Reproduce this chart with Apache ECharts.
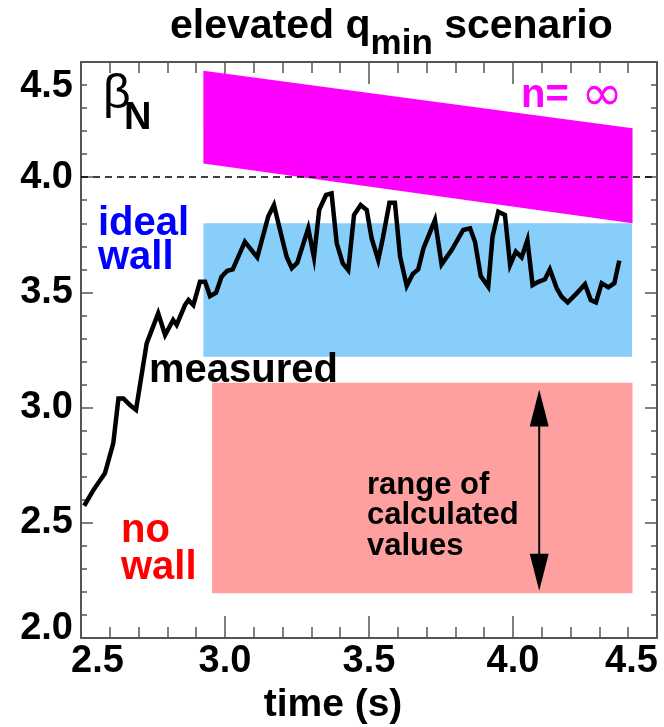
<!DOCTYPE html>
<html>
<head>
<meta charset="utf-8">
<script src="https://cdn.jsdelivr.net/npm/echarts@6/dist/echarts.min.js"></script>
<style>
  html, body { margin: 0; padding: 0; background: #fff; }
  #chart { width: 664px; height: 727px; }
</style>
</head>
<body>
<div id="chart"></div>
<script>
// Measured beta_N trace versus time (s)
const timeS = [2.511, 2.543, 2.583, 2.612, 2.630, 2.647, 2.670, 2.691, 2.728, 2.768,
  2.792, 2.820, 2.832, 2.861, 2.873, 2.890, 2.913, 2.931, 2.948, 2.969,
  2.988, 3.008, 3.027, 3.069, 3.112, 3.150, 3.170, 3.191, 3.214, 3.232,
  3.251, 3.289, 3.309, 3.327, 3.351, 3.370, 3.388, 3.409, 3.428, 3.448,
  3.471, 3.492, 3.509, 3.532, 3.548, 3.571, 3.590, 3.608, 3.631, 3.652,
  3.671, 3.689, 3.729, 3.752, 3.787, 3.827, 3.851, 3.868, 3.888, 3.914,
  3.929, 3.949, 3.972, 3.990, 4.010, 4.030, 4.050, 4.068, 4.088, 4.111,
  4.128, 4.152, 4.169, 4.190, 4.221, 4.250, 4.270, 4.288, 4.308, 4.331,
  4.352, 4.369];
const betaN = [2.574, 2.642, 2.715, 2.845, 3.040, 3.040, 3.011, 2.990, 3.279, 3.409,
  3.315, 3.380, 3.359, 3.445, 3.467, 3.445, 3.546, 3.546, 3.484, 3.499,
  3.568, 3.594, 3.600, 3.720, 3.652, 3.829, 3.879, 3.771, 3.655, 3.605,
  3.629, 3.778, 3.652, 3.858, 3.923, 3.930, 3.713, 3.626, 3.597, 3.836,
  3.879, 3.858, 3.735, 3.641, 3.735, 3.889, 3.889, 3.655, 3.528, 3.580,
  3.600, 3.691, 3.814, 3.622, 3.684, 3.771, 3.778, 3.720, 3.571, 3.525,
  3.742, 3.850, 3.836, 3.619, 3.677, 3.652, 3.727, 3.532, 3.546, 3.557,
  3.600, 3.518, 3.481, 3.457, 3.496, 3.535, 3.467, 3.457, 3.540, 3.522,
  3.540, 3.638];

// n = infinity limit band: time extent, upper and lower edges at each end
const infTime = [2.925, 4.415];
const infUpper = [4.462, 4.212];
const infLower = [4.060, 3.800];

// ideal-wall limit band
const idealTime = [2.925, 4.413];
const idealBeta = [3.221, 3.800];

// no-wall limit band
const noWallTime = [2.955, 4.415];
const noWallBeta = [2.194, 3.108];

// double arrow spanning the range of calculated values
const rangeArrowTime = 4.091;
const rangeArrowBeta = [2.205, 3.079];

// horizontal reference level
const refLevel = 4.0;

// axes
const timeRange = [2.5, 4.5];
const betaRange = [2.0, 4.5];
const tickStep = 0.5;

const FONT = '"Liberation Sans", Arial, Helvetica, sans-serif';
const AXIS_COLOR = '#555';

const chart = echarts.init(document.getElementById('chart'), null, { renderer: 'canvas' });

function labelStyle(extra) {
  return Object.assign({
    fontSize: 38, fontWeight: 'bold', fontFamily: FONT, color: '#000', lineHeight: 38
  }, extra || {});
}
function near(a, b) { return Math.abs(a - b) < 1e-6; }

function xAxis(position, showLabels, tickLen, minorLen) {
  return {
    type: 'value', position: position,
    min: timeRange[0], max: timeRange[1], interval: tickStep,
    axisLine: { show: true, onZero: false, lineStyle: { color: AXIS_COLOR, width: 2 } },
    axisTick: { show: true, inside: true, length: tickLen, lineStyle: { color: AXIS_COLOR, width: 1.5 } },
    minorTick: { show: true, splitNumber: 5, length: minorLen, lineStyle: { color: AXIS_COLOR, width: 1.5 } },
    splitLine: { show: false }, minorSplitLine: { show: false },
    name: showLabels ? 'time (s)' : '',
    nameLocation: 'middle', nameGap: 47,
    nameTextStyle: { fontSize: 39, fontWeight: 'bold', fontFamily: FONT, color: '#000',
      lineHeight: 39, padding: [0, 72, 0, 0] },
    axisLabel: {
      show: showLabels, margin: 5, hideOverlap: false, showMinLabel: true, showMaxLabel: true,
      formatter: v => near(v, timeRange[0]) ? '{first|' + v.toFixed(1) + '}'
        : near(v, timeRange[1]) ? '{last|' + v.toFixed(1) + '}'
        : '{n|' + v.toFixed(1) + '}',
      rich: {
        n: labelStyle(),
        first: labelStyle({ padding: [0, 0, 0, 33] }),
        last: labelStyle({ padding: [0, 51, 0, 0] })
      }
    }
  };
}

function yAxis(position, showLabels) {
  return {
    type: 'value', position: position,
    min: betaRange[0], max: betaRange[1], interval: tickStep,
    axisLine: { show: true, onZero: false, lineStyle: { color: AXIS_COLOR, width: 2 } },
    axisTick: { show: true, inside: true, length: 12, lineStyle: { color: AXIS_COLOR, width: 1.5 } },
    minorTick: { show: true, splitNumber: 5, length: 6, lineStyle: { color: AXIS_COLOR, width: 1.5 } },
    splitLine: { show: false }, minorSplitLine: { show: false },
    axisLabel: {
      show: showLabels, margin: 8, hideOverlap: false, showMinLabel: true, showMaxLabel: true,
      formatter: v => near(v, betaRange[1]) ? '{top|' + v.toFixed(1) + '}'
        : near(v, betaRange[0]) ? '{bot|' + v.toFixed(1) + '}'
        : '{n|' + v.toFixed(1) + '}',
      rich: {
        n: labelStyle(),
        top: labelStyle({ padding: [49, 0, 0, 0] }),
        bot: labelStyle({ padding: [0, 0, 18, 0] })
      }
    }
  };
}

// four-corner band: [t0, t1, lower0, upper0, lower1, upper1]
function bandRenderer(color) {
  return function (params, api) {
    const pts = [
      api.coord([api.value(0), api.value(3)]),
      api.coord([api.value(1), api.value(5)]),
      api.coord([api.value(1), api.value(4)]),
      api.coord([api.value(0), api.value(2)])
    ];
    return { type: 'polygon', shape: { points: pts }, style: { fill: color } };
  };
}

function text(str, x, y, size, color, extra) {
  return {
    type: 'text', x: x, y: y, z: 100,
    style: Object.assign({
      text: str, fontSize: size, fontWeight: 'bold', fontFamily: FONT, fill: color,
      lineHeight: size, align: 'left', verticalAlign: 'top',
      textAlign: 'left', textVerticalAlign: 'top'
    }, extra || {})
  };
}

const option = {
  animation: false,
  backgroundColor: '#fff',
  grid: { left: 81, right: 7, top: 62, bottom: 89, containLabel: false, outerBoundsMode: 'none' },
  xAxis: [xAxis('bottom', true, 22, 11), xAxis('top', false, 22, 11)],
  yAxis: [yAxis('left', true), yAxis('right', false)],
  series: [
    {
      type: 'custom', name: 'n=inf', z: 1, silent: true,
      encode: { x: [0, 1], y: [2, 3, 4, 5] },
      renderItem: bandRenderer('#ff00ff'),
      data: [[infTime[0], infTime[1], infLower[0], infUpper[0], infLower[1], infUpper[1]]]
    },
    {
      type: 'custom', name: 'ideal wall', z: 1, silent: true,
      encode: { x: [0, 1], y: [2, 3, 4, 5] },
      renderItem: bandRenderer('#87cefa'),
      data: [[idealTime[0], idealTime[1], idealBeta[0], idealBeta[1], idealBeta[0], idealBeta[1]]]
    },
    {
      type: 'custom', name: 'no wall', z: 1, silent: true,
      encode: { x: [0, 1], y: [2, 3, 4, 5] },
      renderItem: bandRenderer('#ffa0a0'),
      data: [[noWallTime[0], noWallTime[1], noWallBeta[0], noWallBeta[1], noWallBeta[0], noWallBeta[1]]]
    },
    {
      type: 'custom', name: 'range', z: 3, silent: true,
      encode: { x: 0, y: [1, 2] },
      renderItem: function (params, api) {
        const top = api.coord([api.value(0), api.value(2)]);
        const bot = api.coord([api.value(0), api.value(1)]);
        const hw = 9.5, hl = 37;
        return {
          type: 'group', children: [
            { type: 'line', shape: { x1: top[0], y1: top[1] + hl - 2, x2: bot[0], y2: bot[1] - hl + 2 },
              style: { stroke: '#000', lineWidth: 2 } },
            { type: 'polygon', shape: { points: [[top[0], top[1]], [top[0] - hw, top[1] + hl], [top[0] + hw, top[1] + hl]] },
              style: { fill: '#000' } },
            { type: 'polygon', shape: { points: [[bot[0], bot[1]], [bot[0] - hw, bot[1] - hl], [bot[0] + hw, bot[1] - hl]] },
              style: { fill: '#000' } }
          ]
        };
      },
      data: [[rangeArrowTime, rangeArrowBeta[0], rangeArrowBeta[1]]]
    },
    {
      type: 'line', name: 'measured', z: 4, silent: true,
      showSymbol: false, symbol: 'none',
      lineStyle: { color: '#000', width: 4.5, join: 'miter' },
      data: timeS.map((t, i) => [t, betaN[i]]),
      markLine: {
        silent: true, symbol: 'none', z: 3,
        label: { show: false },
        lineStyle: { color: '#000', width: 1.6, type: [7, 5] },
        data: [{ yAxis: refLevel }]
      }
    }
  ],
  graphic: [
    {
      type: 'text', x: 170, y: 6.5, z: 100,
      style: {
        text: '{a|elevated q}{s|min}{a| scenario}',
        align: 'left', verticalAlign: 'top', textAlign: 'left', textVerticalAlign: 'top',
        rich: {
          a: { fontSize: 41, fontWeight: 'bold', fontFamily: FONT, fill: '#000', lineHeight: 42, verticalAlign: 'top' },
          s: { fontSize: 35, fontWeight: 'bold', fontFamily: FONT, fill: '#000', lineHeight: 42, verticalAlign: 'top', padding: [20, 0, 0, 0] }
        }
      }
    },
    text('\u03b2', 103, 71, 48, '#000', { fontWeight: 'normal' }),
    text('N', 124, 99.5, 38, '#000'),
    text('n=', 521, 76, 40, '#ff00ff'),
    text('\u221e', 602, 97, 50, '#ff00ff', {
      fontWeight: 'normal', fontFamily: '"DejaVu Sans", sans-serif',
      align: 'center', verticalAlign: 'middle', textAlign: 'center', textVerticalAlign: 'middle'
    }),
    text('ideal\nwall', 98, 207, 40, '#0000ff', { lineHeight: 34 }),
    text('measured', 149, 351, 40, '#000'),
    text('no\nwall', 121, 512.6, 40, '#ff0000', { lineHeight: 37 }),
    text('range of\ncalculated\nvalues', 367, 470, 31, '#000', { lineHeight: 30.5 })
  ]
};

chart.setOption(option);
</script>
</body>
</html>
